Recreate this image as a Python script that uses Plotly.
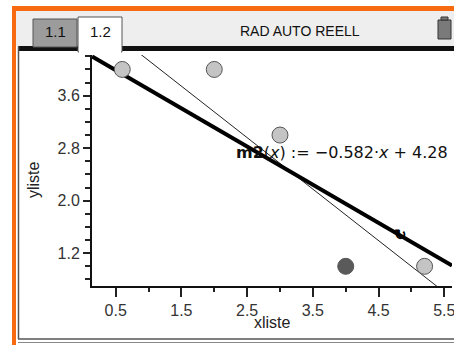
import numpy as np
import plotly.graph_objects as go

# ---- data ----
x_liste = [0.6, 2.0, 3.0, 4.0, 5.2]
y_liste = [4.0, 4.0, 3.0, 1.0, 1.0]
point_colors = ["#c4c4c4", "#c4c4c4", "#c4c4c4", "#5a5a5a", "#c4c4c4"]
m2_slope = -0.582
m2_intercept = 4.28
x_tickvals = [0.5, 1.5, 2.5, 3.5, 4.5, 5.5]
x_ticktext = ["0.5", "1.5", "2.5", "3.5", "4.5", "5.5"]
y_tickvals = [1.2, 2.0, 2.8, 3.6]
y_ticktext = ["1.2", "2.0", "2.8", "3.6"]

X_RANGE = [0.14, 5.617]
Y_RANGE = [0.70, 4.22]

W, H = 454, 345
L, R, T, B = 92, 2, 55, 59
PW, PH = W - L - R, H - T - B


def px(x):
    return (x - L) / PW


def py(y):
    return (H - B - y) / PH


# regression line (thin)
reg_slope, reg_int = np.polyfit(x_liste, y_liste, 1)
xs = np.array(X_RANGE)

fig = go.Figure()
fig.add_trace(go.Scatter(x=xs, y=reg_slope * xs + reg_int, mode="lines",
                         line=dict(color="#222222", width=1), hoverinfo="skip"))
fig.add_trace(go.Scatter(x=xs, y=m2_slope * xs + m2_intercept, mode="lines",
                         line=dict(color="#000000", width=4), hoverinfo="skip"))
fig.add_trace(go.Scatter(x=x_liste, y=y_liste, mode="markers",
                         marker=dict(size=16, color=point_colors,
                                     line=dict(color="#555555", width=1))))

FONT = "Liberation Sans"

shapes = []


def rect(x0, y0, x1, y1, fill, line=None, lw=0):
    shapes.append(dict(type="rect", xref="paper", yref="paper",
                       x0=px(x0), x1=px(x1), y0=py(y1), y1=py(y0),
                       fillcolor=fill, line=dict(color=line or fill, width=lw),
                       layer="above"))


def hline(x0, x1, y, color, w):
    shapes.append(dict(type="line", xref="paper", yref="paper",
                       x0=px(x0), x1=px(x1), y0=py(y), y1=py(y),
                       line=dict(color=color, width=w), layer="above"))


def vline(x, y0, y1, color, w):
    shapes.append(dict(type="line", xref="paper", yref="paper",
                       x0=px(x), x1=px(x), y0=py(y0), y1=py(y1),
                       line=dict(color=color, width=w), layer="above"))


# frame
rect(16, 11, 454, 46, "#eeeeee")
rect(12, 6, 16, 345, "#f76a10")
rect(12, 6, 454, 11, "#f76a10")
rect(18, 46, 454, 51, "#111111")
rect(33, 19, 77, 47, "#9c9c9c", "#555555", 1)
rect(78, 17, 122, 52, "#ffffff", "#555555", 1)
rect(79, 46, 121, 53, "#ffffff")
vline(18.5, 46, 339, "#555555", 1.5)
hline(18, 454, 339, "#555555", 1.5)
hline(18, 454, 342.5, "#888888", 1)
# battery
rect(438, 20, 451, 39, "#7a7a7a", "#333333", 1)
rect(441, 17, 448, 20, "#7a7a7a", "#333333", 1)


def ptext(text, x, y, size, color="#111", angle=0):
    return dict(text=text, x=px(x), y=py(y), xref="paper", yref="paper",
                xanchor="center", yanchor="middle", showarrow=False, textangle=angle,
                font=dict(family=FONT, size=size, color=color))


annotations = [
    ptext("1.1", 55, 32, 15),
    ptext("1.2", 100, 32, 15),
    ptext("RAD AUTO REELL", 300, 31, 14),
    ptext("xliste", 272, 322, 16, "#222"),
    ptext("yliste", 33, 180, 16, "#222", -90),
    dict(text="<b>m2</b>(<i>x</i>) := \u22120.582\u00b7<i>x</i> + 4.28",
         x=2.30, y=2.727, xanchor="left", yanchor="middle", showarrow=False,
         font=dict(family="DejaVu Sans", size=16, color="#111")),
    dict(text="<b>\u21bb</b>", x=4.83, y=1.47, xanchor="center", yanchor="middle",
         showarrow=False,
         font=dict(family="DejaVu Sans", size=15, color="#000")),
]

fig.update_layout(
    width=W, height=H, autosize=False,
    margin=dict(l=L, r=R, t=T, b=B, pad=0),
    paper_bgcolor="white", plot_bgcolor="white",
    showlegend=False, shapes=shapes, annotations=annotations,
    font=dict(family=FONT, size=16, color="#333"),
)
fig.update_xaxes(range=X_RANGE, tickmode="array", tickvals=x_tickvals, ticktext=x_ticktext,
                 automargin=False,
                 ticks="outside", ticklen=9, tickwidth=1.5, tickcolor="#222",
                 ticklabeloverflow="allow",
                 minor=dict(dtick=0.5, tick0=0.0, ticks="outside", ticklen=4,
                            tickwidth=1.5, tickcolor="#222"),
                 showgrid=False, zeroline=False, showline=True, linecolor="#111", linewidth=2,
                 tickfont=dict(family=FONT, size=16, color="#333"))
fig.update_yaxes(range=Y_RANGE, tickmode="array", tickvals=y_tickvals, ticktext=y_ticktext,
                 automargin=False,
                 ticks="outside", ticklen=7, tickwidth=1.5, tickcolor="#222",
                 ticklabeloverflow="allow",
                 minor=dict(dtick=0.2, tick0=0.0, ticks="outside", ticklen=5,
                            tickwidth=1.5, tickcolor="#222"),
                 showgrid=False, zeroline=False, showline=True, linecolor="#111", linewidth=2,
                 tickfont=dict(family=FONT, size=16, color="#333"))

fig.write_html("out.html",
               config={"displayModeBar": False, "responsive": False},
               post_script="document.documentElement.style.overflow='hidden';"
                           "document.body.style.overflow='hidden';"
                           "document.body.style.margin='0';")
